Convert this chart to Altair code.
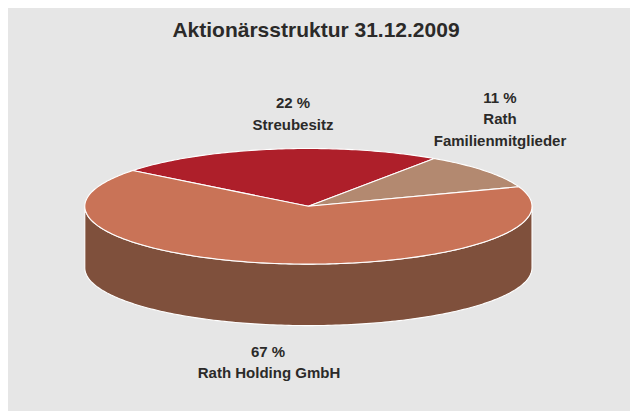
import numpy as np
import pandas as pd
import altair as alt

# Shares as drawn in the picture (percent of the full ellipse sweep)
categories = ["Streubesitz", "Rath Familienmitglieder", "Rath Holding GmbH"]
drawn_shares = [23.9, 10.0, 66.1]
colors = ["#ae1f2a", "#b38970", "#c97357"]
side_color = "#7f503c"
bg = "#e6e6e6"
text_color = "#2b2a29"
title_text = "Aktionärsstruktur 31.12.2009"
label_lines = [
    ("22 %", 285, 100), ("Streubesitz", 285, 122),
    ("11 %", 492, 95), ("Rath", 492, 116), ("Familienmitglieder", 492, 138),
    ("67 %", 260, 349), ("Rath Holding GmbH", 261, 370),
]

W, H = 622, 403
CX, CY, RX, RY, DEPTH = 300.4, 198.3, 223.6, 57.8, 61.5  # plot-pixel geometry
START_DEG = 141.8  # where the first slice begins, counter-clockwise from east

x_scale = alt.Scale(domain=[-CX / RX, (W - CX) / RX], range=[0, W], nice=False, zero=False)
y_scale = alt.Scale(domain=[-(H - CY) / RY, CY / RY], range=[H, 0], nice=False, zero=False)
drop = DEPTH / RY

rows = []
def add(name, xs, ys):
    for i, (a, b) in enumerate(zip(xs, ys)):
        rows.append({"poly": name, "i": i, "x": float(a), "y": float(b)})

# side wall: the front half of the disc, dropped by the depth
t = np.radians(np.arange(180, 360.5, 1.0))
add("side",
    np.r_[np.cos(t), np.cos(t[::-1]), np.cos(t[0])],
    np.r_[np.sin(t) - drop, np.sin(t[::-1]), np.sin(t[0]) - drop])

# top slices, clockwise from the start angle
a = START_DEG
for cat, s in zip(categories, drawn_shares):
    sweep = s * 3.6
    t = np.radians(np.linspace(a, a - sweep, max(int(sweep), 2) + 1))
    add(cat, np.r_[0, np.cos(t), 0], np.r_[0, np.sin(t), 0])
    a -= sweep

df = pd.DataFrame(rows)

def poly(name, color):
    return (
        alt.Chart(df[df.poly == name])
        .mark_line(fill=color, stroke="white", strokeWidth=1.1, strokeJoin="miter", clip=True)
        .encode(
            x=alt.X("x:Q", scale=x_scale, axis=None),
            y=alt.Y("y:Q", scale=y_scale, axis=None),
            order="i:Q",
        )
    )

layers = [poly("side", side_color)] + [poly(c, col) for c, col in zip(categories, colors)]

layers.append(
    alt.Chart(pd.DataFrame({"t": [title_text]}))
    .mark_text(font="Liberation Sans", fontWeight="bold", fontSize=21, color=text_color, align="center", baseline="alphabetic")
    .encode(text="t:N", x=alt.value(308), y=alt.value(29))
)
for text, px, py in label_lines:
    layers.append(
        alt.Chart(pd.DataFrame({"t": [text]}))
        .mark_text(font="Liberation Sans", fontWeight="bold", fontSize=15, color=text_color, align="center", baseline="alphabetic")
        .encode(text="t:N", x=alt.value(px), y=alt.value(py))
    )

chart = (
    alt.layer(*layers)
    .properties(width=W, height=H, padding=0, background=bg, autosize=alt.AutoSizeParams(type="none"))
    .configure_view(stroke=None)
)
chart.save("out.html", embed_options={"renderer": "svg", "actions": False})
